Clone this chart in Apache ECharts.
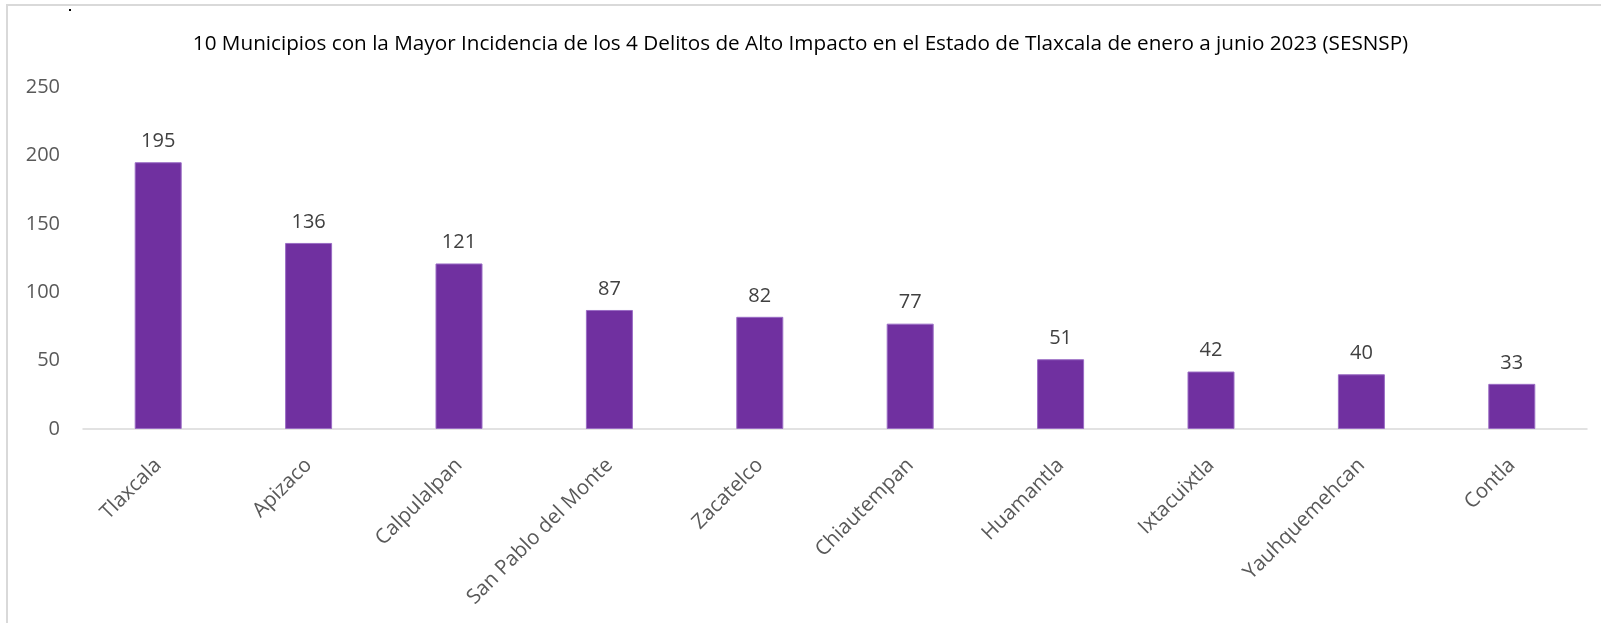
<!DOCTYPE html>
<html>
<head>
    <meta charset="utf-8">
    <title>Delitos Tlaxcala</title>
    <script src="https://cdn.jsdelivr.net/npm/echarts@6/dist/echarts.min.js"></script>
    <style>
        html, body { margin: 0; padding: 0; background: #fff; }
        #chart { width: 1601px; height: 623px; }
    </style>
</head>
<body>
    <div id="chart"></div>
    <script>
        var titulo = '10 Municipios con la Mayor Incidencia de los 4 Delitos de Alto Impacto en el Estado de Tlaxcala de enero a junio 2023 (SESNSP)';
        var municipios = ['Tlaxcala', 'Apizaco', 'Calpulalpan', 'San Pablo del Monte', 'Zacatelco',
            'Chiautempan', 'Huamantla', 'Ixtacuixtla', 'Yauhquemehcan', 'Contla'];
        var delitos = [195, 136, 121, 87, 82, 77, 51, 42, 40, 33];

        var chart = echarts.init(document.getElementById('chart'));
        chart.setOption({
            animation: false,
            backgroundColor: '#fff',
            title: {
                text: titulo,
                left: 'center',
                top: 29,
                textStyle: {
                    fontFamily: 'Open Sans',
                    fontSize: 20.7,
                    fontWeight: 'normal',
                    color: '#000'
                }
            },
            graphic: [{
                type: 'polyline',
                shape: { points: [[7, 623], [7, 5], [1601, 5]] },
                style: { stroke: '#d9d9d9', lineWidth: 2, fill: null }
            }, {
                type: 'rect',
                shape: { x: 69, y: 9, width: 2, height: 2 },
                style: { fill: '#000' }
            }],
            grid: {
                left: 83,
                right: 14,
                top: 87,
                bottom: 194
            },
            xAxis: {
                type: 'category',
                data: municipios,
                axisLine: { lineStyle: { color: '#d9d9d9', width: 1.5 } },
                axisTick: { show: false },
                axisLabel: {
                    rotate: 45,
                    margin: 33,
                    interval: 0,
                    fontFamily: 'Open Sans',
                    fontSize: 20.5,
                    color: '#595959'
                }
            },
            yAxis: {
                type: 'value',
                min: 0,
                max: 250,
                interval: 50,
                splitLine: { show: false },
                axisLine: { show: false },
                axisTick: { show: false },
                axisLabel: {
                    margin: 23,
                    fontFamily: 'Open Sans',
                    fontSize: 20,
                    color: '#595959'
                }
            },
            series: [{
                type: 'bar',
                data: delitos,
                barWidth: 47,
                itemStyle: {
                    color: '#7030a0',
                    borderColor: '#9a6cc4',
                    borderWidth: 1
                },
                label: {
                    show: true,
                    position: 'top',
                    distance: 11,
                    fontFamily: 'Open Sans',
                    fontSize: 20,
                    color: '#404040'
                }
            }]
        });
    </script>
</body>
</html>
